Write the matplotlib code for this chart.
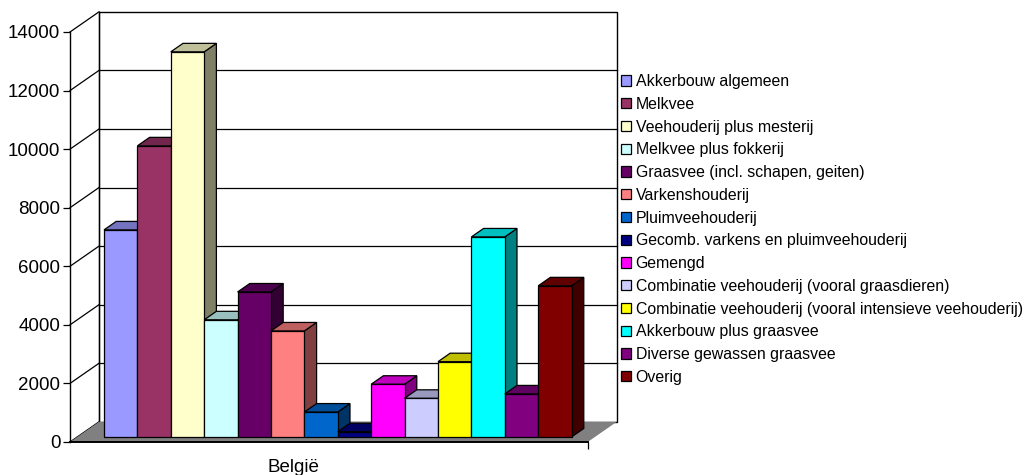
import numpy as np
import matplotlib
matplotlib.use('Agg')
import matplotlib.pyplot as plt
import matplotlib.colors as mcolors
from matplotlib.patches import Polygon, Patch

plt.rcParams['font.family'] = ['Liberation Sans', 'DejaVu Sans']

# Number of farms per farm type (one group: België)
categories = [
    'Akkerbouw algemeen',
    'Melkvee',
    'Veehouderij plus mesterij',
    'Melkvee plus fokkerij',
    'Graasvee (incl. schapen, geiten)',
    'Varkenshouderij',
    'Pluimveehouderij',
    'Gecomb. varkens en pluimveehouderij',
    'Gemengd',
    'Combinatie veehouderij (vooral graasdieren)',
    'Combinatie veehouderij (vooral intensieve veehouderij)',
    'Akkerbouw plus graasvee',
    'Diverse gewassen graasvee',
    'Overig',
]
values = [7070, 9940, 13150, 4000, 4950, 3620, 850, 180, 1800, 1320, 2570, 6830, 1470, 5160]
colors = ['#9999FF', '#993366', '#FFFFCC', '#CCFFFF', '#660066', '#FF8080', '#0066CC',
          '#000080', '#FF00FF', '#CCCCFF', '#FFFF00', '#00FFFF', '#800080', '#800000']
yticks = list(range(0, 14001, 2000))
group_label = 'België'

# 3D look: depth offset of the back wall (data units), bar depth span
DX, DY = 0.87, 690
GAP = 0.8
W = len(values) + 2 * GAP - 0.1
F0, F1 = 0.25, 0.67
YMAX = 14000


def shade(c, f):
    return tuple(np.array(mcolors.to_rgb(c)) * f)


fig = plt.figure(figsize=(10.25, 4.75), dpi=100)
ax = fig.add_axes([70 / 1025, 33 / 475, W * 33.4 / 1025, 410 / 475])
ax.set_xlim(0, W)
ax.set_ylim(0, YMAX)
ax.patch.set_alpha(0)
for s in ['top', 'right', 'bottom']:
    ax.spines[s].set_visible(False)
ax.spines['left'].set_linewidth(1.0)

lkw = dict(color='black', lw=0.9, clip_on=False)

# back wall and side wall
ax.add_patch(Polygon([(DX, DY), (W + DX, DY), (W + DX, YMAX + DY), (DX, YMAX + DY)],
                     closed=True, facecolor='white', edgecolor='black', lw=1.0,
                     clip_on=False, zorder=1))
for v in yticks[1:-1]:
    ax.plot([DX, W + DX], [v + DY, v + DY], zorder=1.5, **lkw)
for v in yticks:
    ax.plot([0, DX], [v, v + DY], zorder=1.5, **lkw)
ax.plot([DX, DX], [DY, YMAX + DY], zorder=1.5, **lkw)

# floor
ax.add_patch(Polygon([(0, 0), (W, 0), (W + DX, DY), (DX, DY)], closed=True,
                     facecolor='#808080', edgecolor='none',
                     clip_on=False, zorder=2))
ax.plot([0, W], [0, 0], color='black', lw=1.4, clip_on=False, zorder=2.5)

# bars, left to right so each bar covers the side of the previous one
for i, (v, c) in enumerate(zip(values, colors)):
    x0 = GAP + i
    x1 = x0 + 1
    fx, fy = F0 * DX, F0 * DY
    bx, by = F1 * DX, F1 * DY
    z = 3 + i
    side = [(x1 + fx, fy), (x1 + fx, v + fy), (x1 + bx, v + by), (x1 + bx, by)]
    top = [(x0 + fx, v + fy), (x1 + fx, v + fy), (x1 + bx, v + by), (x0 + bx, v + by)]
    front = [(x0 + fx, fy), (x1 + fx, fy), (x1 + fx, v + fy), (x0 + fx, v + fy)]
    for pts, f in [(side, 0.5), (top, 0.75), (front, 1.0)]:
        ax.add_patch(Polygon(pts, closed=True, facecolor=shade(c, f),
                             edgecolor='black', lw=0.9, clip_on=False, zorder=z))

ax.set_yticks(yticks)
ax.tick_params(axis='y', direction='out', length=5, width=0.9, labelsize=13.5, pad=2)
ax.set_xticks([W])
ax.set_xticklabels([''])
ax.set_xticks([6.7], [group_label], minor=True)
ax.tick_params(axis='x', which='major', direction='out', length=5, width=0.9)
ax.tick_params(axis='x', which='minor', length=0, labelsize=13.5, pad=12)

handles = [Patch(facecolor=c, edgecolor='black', lw=0.9) for c in colors]
fig.legend(handles, categories, loc='upper left',
           bbox_to_anchor=(621 / 1025, 1 - 74 / 475), frameon=False,
           fontsize=11.4, handlelength=0.63, handleheight=0.63,
           handletextpad=0.3, labelspacing=0.49, borderpad=0, borderaxespad=0)

fig.savefig('out.png', dpi=100, facecolor='white')
